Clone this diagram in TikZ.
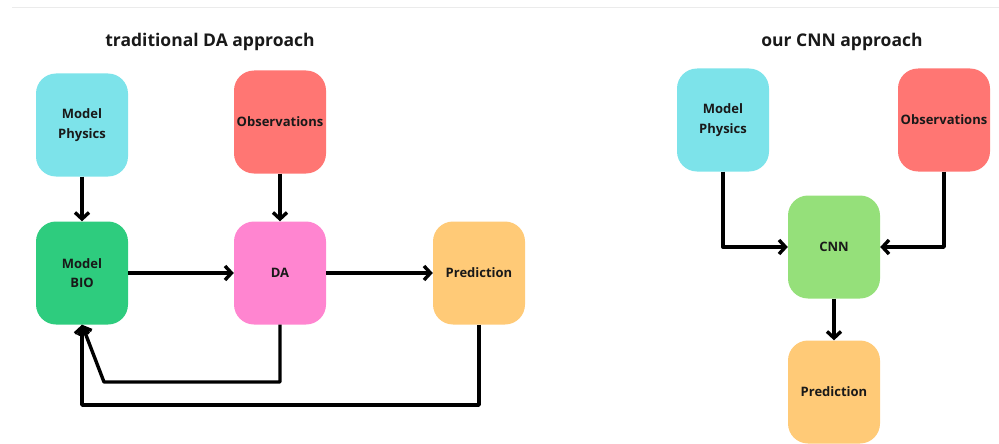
\documentclass[tikz,border=0pt]{standalone}
\usepackage{fontspec}
\setmainfont{Open Sans}
\usetikzlibrary{arrows.meta}
\definecolor{cphys}{HTML}{7DE3EA}
\definecolor{cobs}{HTML}{FF7673}
\definecolor{cbio}{HTML}{2ECC7E}
\definecolor{cda}{HTML}{FF85D0}
\definecolor{cpred}{HTML}{FFCA77}
\definecolor{ccnn}{HTML}{95E07A}
\tikzset{
  box/.style={rounded corners=20pt, minimum width=92pt, minimum height=103pt, inner sep=0pt,
    align=center, font=\fontsize{13}{19.5}\selectfont\bfseries, text=black!90},
  conn/.style={line width=3.4pt, -{Straight Barb[length=6.5pt,width=14pt,line width=3.4pt]}},
  ttl/.style={font=\fontsize{17.5}{21}\selectfont\bfseries, text=black!90}
}
\begin{document}
\begin{tikzpicture}[x=1pt,y=-1pt]
\useasboundingbox (0,0) rectangle (999,444);
\draw[black!8, line width=1pt] (12,8) -- (999,8);
% left panel
\node[ttl] (t1) at (210,42) {traditional DA approach};
\node[box, fill=cphys] (mp) at (82,125) {Model\\Physics};
\node[box, fill=cobs] (ob) at (280,122) {Observations};
\node[box, fill=cbio] (mb) at (82,273) {Model\\BIO};
\node[box, fill=cda] (da) at (280,273) {DA};
\node[box, fill=cpred] (pr) at (479,273) {Prediction};
\draw[conn] (mp) -- (mb);
\draw[conn] (ob.south) -- (da.north);
\draw[conn] (mb) -- (da);
\draw[conn] (da) -- (pr);
\coordinate (c1) at (104,382);
\coordinate (c2) at (82,405);
\draw[conn, line join=round] (da.south) |- (c1) -- (mb.south);
\draw[conn, line join=round] (pr.south) |- (c2) -- (mb.south);
% right panel
\node[ttl] (t2) at (842,42) {our CNN approach};
\node[box, fill=cphys] (mp2) at (723,120) {Model\\Physics};
\node[box, fill=cobs] (ob2) at (944,120) {Observations};
\node[box, fill=ccnn] (cnn) at (834,247) {CNN};
\node[box, fill=cpred] (pr2) at (834,392) {Prediction};
\draw[conn, line join=round] (mp2.south) |- (cnn.west);
\draw[conn, line join=round] (ob2.south) |- (cnn.east);
\draw[conn] (cnn) -- (pr2);
\end{tikzpicture}
\end{document}
